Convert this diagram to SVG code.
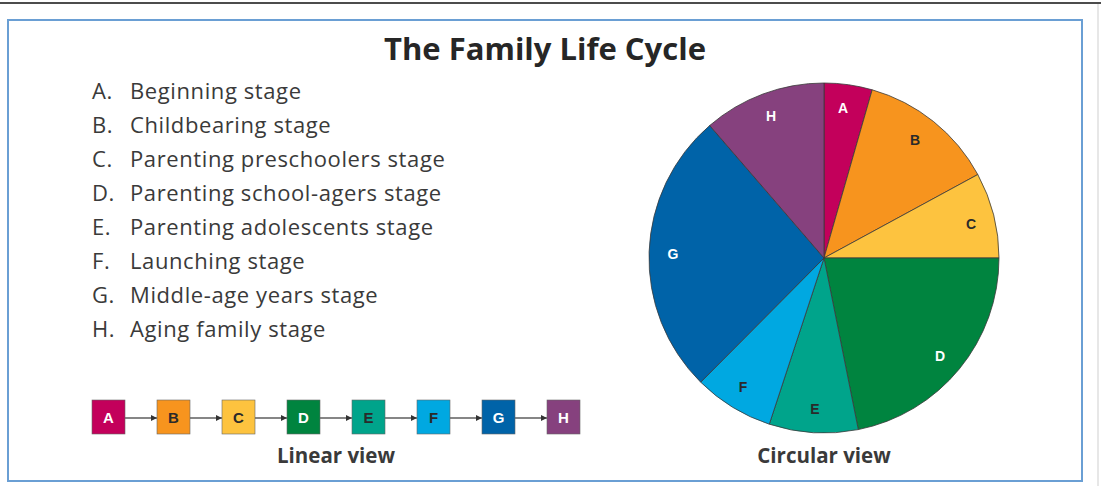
<svg xmlns="http://www.w3.org/2000/svg" width="1101" height="486" viewBox="0 0 1101 486">
<style>
  .title { font-family: "Open Sans", "Liberation Sans", sans-serif; font-weight: 700; font-size: 31px; fill: #262626; }
  .item { font-family: "Open Sans", "Liberation Sans", sans-serif; font-size: 22px; letter-spacing: 0.6px; fill: #3a3a3a; }
  .cap { font-family: "Open Sans", "Liberation Sans", sans-serif; font-weight: 700; font-size: 20.5px; fill: #3a3a3a; text-anchor: middle; }
  .lbl { font-family: "Liberation Sans", "Open Sans", sans-serif; font-weight: 700; font-size: 14px; text-anchor: middle; dominant-baseline: central; }
  .bl { font-size: 15px; }
  .w { fill: #ffffff; }
  .d { fill: #2a2a2a; }
  .slice { stroke: #3a3a3a; stroke-width: 0.8; stroke-linejoin: round; }
  .box { stroke: #666; stroke-width: 0.6; }
  .conn { stroke: #444; stroke-width: 1.3; fill: none; marker-end: url(#arr); }
</style>
<defs>
  <marker id="arr" viewBox="0 0 10 10" refX="10" refY="5" markerWidth="6" markerHeight="6" markerUnits="userSpaceOnUse" orient="auto">
    <path d="M0,0 L10,5 L0,10 Z" fill="#333"/>
  </marker>
</defs>
<rect x="0" y="0" width="1101" height="486" fill="#ffffff"/>
<line x1="0" y1="3" x2="1101" y2="3" stroke="#111" stroke-width="1.6"/>
<line x1="1098" y1="4" x2="1098" y2="486" stroke="#cfcfcf" stroke-width="1"/>
<rect x="8" y="20" width="1074" height="461" fill="none" stroke="#6a9fd4" stroke-width="2"/>

<text class="title" x="545" y="60" text-anchor="middle">The Family Life Cycle</text>

<g id="legend">
  <text class="item" x="92" y="99">A.</text><text class="item" x="130" y="99">Beginning stage</text>
  <text class="item" x="92" y="133">B.</text><text class="item" x="130" y="133">Childbearing stage</text>
  <text class="item" x="92" y="167">C.</text><text class="item" x="130" y="167">Parenting preschoolers stage</text>
  <text class="item" x="92" y="201">D.</text><text class="item" x="130" y="201">Parenting school-agers stage</text>
  <text class="item" x="92" y="235">E.</text><text class="item" x="130" y="235">Parenting adolescents stage</text>
  <text class="item" x="92" y="269">F.</text><text class="item" x="130" y="269">Launching stage</text>
  <text class="item" x="92" y="303">G.</text><text class="item" x="130" y="303">Middle-age years stage</text>
  <text class="item" x="92" y="337">H.</text><text class="item" x="130" y="337">Aging family stage</text>
</g>

<g id="connectors">
  <line class="conn" x1="125" y1="418" x2="157" y2="418"/>
  <line class="conn" x1="190" y1="418" x2="222" y2="418"/>
  <line class="conn" x1="255" y1="418" x2="287" y2="418"/>
  <line class="conn" x1="320" y1="418" x2="352" y2="418"/>
  <line class="conn" x1="385" y1="418" x2="417" y2="418"/>
  <line class="conn" x1="450" y1="418" x2="482" y2="418"/>
  <line class="conn" x1="515" y1="418" x2="547" y2="418"/>
</g>

<g id="lin-A"><rect class="box" x="92" y="400" width="33" height="34" fill="#c3005b"/><text class="lbl bl w" x="108.5" y="417">A</text></g>
<g id="lin-B"><rect class="box" x="157" y="400" width="33" height="34" fill="#f7941e"/><text class="lbl bl d" x="173.5" y="417">B</text></g>
<g id="lin-C"><rect class="box" x="222" y="400" width="33" height="34" fill="#fdc33f"/><text class="lbl bl d" x="238.5" y="417">C</text></g>
<g id="lin-D"><rect class="box" x="287" y="400" width="33" height="34" fill="#00843f"/><text class="lbl bl w" x="303.5" y="417">D</text></g>
<g id="lin-E"><rect class="box" x="352" y="400" width="33" height="34" fill="#00a48b"/><text class="lbl bl d" x="368.5" y="417">E</text></g>
<g id="lin-F"><rect class="box" x="417" y="400" width="33" height="34" fill="#00a8e1"/><text class="lbl bl d" x="433.5" y="417">F</text></g>
<g id="lin-G"><rect class="box" x="482" y="400" width="33" height="34" fill="#0063a8"/><text class="lbl bl w" x="498.5" y="417">G</text></g>
<g id="lin-H"><rect class="box" x="547" y="400" width="33" height="34" fill="#86417e"/><text class="lbl bl w" x="563.5" y="417">H</text></g>

<text class="cap" x="336" y="463">Linear view</text>

<g id="pie-A"><path class="slice" d="M824,258 L824,83 A175,175 0 0 1 872.2,89.8 Z" fill="#c3005b"/><text class="lbl w" x="843" y="108">A</text></g>
<g id="pie-B"><path class="slice" d="M824,258 L872.2,89.8 A175,175 0 0 1 977.8,174.5 Z" fill="#f7941e"/><text class="lbl d" x="915" y="140">B</text></g>
<g id="pie-C"><path class="slice" d="M824,258 L977.8,174.5 A175,175 0 0 1 999,258 Z" fill="#fdc33f"/><text class="lbl d" x="971" y="224">C</text></g>
<g id="pie-D"><path class="slice" d="M824,258 L999,258 A175,175 0 0 1 858.3,429.6 Z" fill="#00843f"/><text class="lbl w" x="940" y="356">D</text></g>
<g id="pie-E"><path class="slice" d="M824,258 L858.3,429.6 A175,175 0 0 1 769.3,424.2 Z" fill="#00a48b"/><text class="lbl d" x="815" y="409">E</text></g>
<g id="pie-F"><path class="slice" d="M824,258 L769.3,424.2 A175,175 0 0 1 700.7,382.2 Z" fill="#00a8e1"/><text class="lbl d" x="743" y="387">F</text></g>
<g id="pie-G"><path class="slice" d="M824,258 L700.7,382.2 A175,175 0 0 1 709.7,125.5 Z" fill="#0063a8"/><text class="lbl w" x="673" y="254">G</text></g>
<g id="pie-H"><path class="slice" d="M824,258 L709.7,125.5 A175,175 0 0 1 824,83 Z" fill="#86417e"/><text class="lbl w" x="771" y="116">H</text></g>

<text class="cap" x="824" y="463">Circular view</text>
</svg>
